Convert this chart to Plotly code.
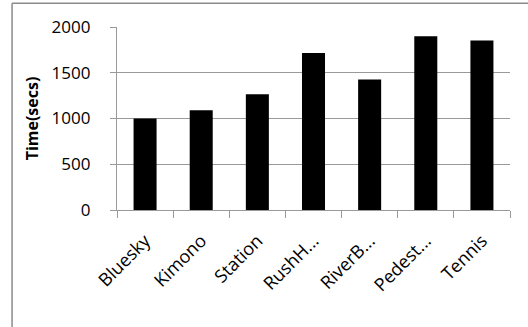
import plotly.graph_objects as go

# Encoding time for each test sequence
sequences = ["Bluesky", "Kimono", "Station", "RushH...", "RiverB...", "Pedest...", "Tennis"]
times_secs = [1000, 1090, 1265, 1715, 1425, 1900, 1852]
y_ticks = [0, 500, 1000, 1500, 2000]

FONT = "Open Sans"
GRID = "#9a9a9a"

fig = go.Figure(
    go.Bar(
        x=sequences,
        y=times_secs,
        marker=dict(color="black", line=dict(width=0)),
        width=0.41,
    )
)

fig.update_layout(
    width=528,
    height=327,
    margin=dict(l=117, r=18, t=27, b=117),
    paper_bgcolor="white",
    plot_bgcolor="white",
    showlegend=False,
    font=dict(family=FONT, size=17, color="black"),
    shapes=[
        # outer chart-area frame
        dict(type="line", xref="paper", yref="paper",
             x0=-0.267, x1=1.2, y0=1.13, y1=1.13,
             line=dict(color="#8a8a8a", width=1.5)),
        dict(type="line", xref="paper", yref="paper",
             x0=-0.267, x1=-0.267, y0=1.13, y1=-0.65,
             line=dict(color="#8a8a8a", width=1.5)),
    ],
)

fig.update_xaxes(
    type="category",
    showline=True, linecolor=GRID, linewidth=1.3,
    ticks="outside", tickson="boundaries", ticklen=7,
    tickcolor=GRID, tickwidth=1.3,
    tickangle=-45,
    tickfont=dict(family=FONT, size=18),
    ticklabelstandoff=12,
    showgrid=False,
)

fig.update_yaxes(
    range=[0, 2000],
    tickvals=y_ticks,
    showline=True, linecolor=GRID, linewidth=1.3,
    ticks="outside", ticklen=6, tickcolor=GRID, tickwidth=1.3,
    ticklabelstandoff=16,
    showgrid=True, gridcolor=GRID, gridwidth=1.3,
    zeroline=False,
    tickfont=dict(family=FONT, size=17),
    title=dict(text="<b>Time(secs)</b>", font=dict(family=FONT, size=16), standoff=8),
)

fig.write_html("out.html")
